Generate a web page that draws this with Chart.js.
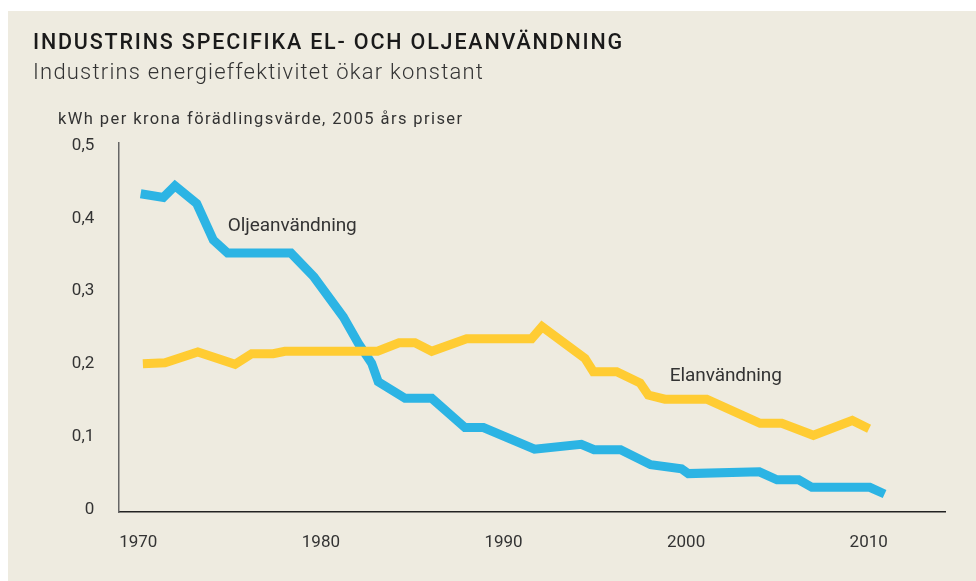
<!DOCTYPE html>
<html lang="sv">
<head>
<meta charset="utf-8">
<title>Industrins specifika el- och oljeanvändning</title>
<script src="https://cdn.jsdelivr.net/npm/chart.js@4.4.1/dist/chart.umd.min.js"></script>
<style>
  html, body { margin: 0; padding: 0; background: #fff; }
  #chart { display: block; width: 976px; height: 581px; }
</style>
</head>
<body>
<canvas id="chart" width="976" height="581"></canvas>
<script>
// ----------------- Data -----------------

const title = "INDUSTRINS SPECIFIKA EL- OCH OLJEANVÄNDNING";
const subtitle = "Industrins energieffektivitet ökar konstant";
const unitLabel = "kWh per krona förädlingsvärde, 2005 års priser";

const xTicks = [1970, 1980, 1990, 2000, 2010];
const yTicks = [0, 0.1, 0.2, 0.3, 0.4, 0.5];

// Oljeanvändning (blue)
const oilYears = [
  1970.13, 1971.37, 1972.01, 1973.2, 1974.11, 1974.89, 1978.36, 1979.62,
  1981.23, 1982.05, 1982.78, 1983.14, 1984.61, 1986.07, 1987.89, 1988.9,
  1991.7, 1994.26, 1994.96, 1996.41, 1998.06, 1999.75, 2000.12, 2004.01,
  2004.98, 2006.17, 2006.89, 2010.06, 2010.87,
];
const oilValues = [
  0.4337, 0.4286, 0.4447, 0.4203, 0.3702, 0.3523, 0.3523, 0.3194,
  0.2644, 0.2283, 0.2008, 0.1755, 0.1527, 0.1527, 0.1126, 0.1126,
  0.0828, 0.0896, 0.0821, 0.0821, 0.0615, 0.0558, 0.0493, 0.0518,
  0.0408, 0.0408, 0.0304, 0.0304, 0.0213,
];

// Elanvändning (yellow)
const elYears = [
  1970.25, 1971.46, 1973.26, 1975.3, 1976.21, 1977.39, 1978.03, 1983.1,
  1984.28, 1985.15, 1986.07, 1987.98, 1991.54, 1992.11, 1994.46, 1994.92,
  1996.2, 1997.48, 1997.93, 1998.84, 2001.13, 2004.05, 2005.24, 2006.97,
  2009.1, 2010.02,
];
const elValues = [
  0.2001, 0.2016, 0.2163, 0.1996, 0.214, 0.214, 0.2173, 0.2173,
  0.229, 0.229, 0.2173, 0.2346, 0.2346, 0.2511, 0.2077, 0.1893,
  0.1893, 0.1738, 0.1573, 0.1515, 0.1515, 0.1184, 0.1184, 0.1019,
  0.1223, 0.111,
];

// series name labels, placed in data coordinates (left edge, baseline)
const seriesLabels = [
  { text: "Oljeanvändning", x: 1974.9, y: 0.3832, width: 129 },
  { text: "Elanvändning", x: 1999.11, y: 0.1772, width: 112 },
];

// ----------------- Styles -----------------

const BLUE = "#2cb4e4";
const YELLOW = "#ffcc33";
const PANEL = "#eeebe0";
const TEXT = "#333333";
const FONT = "Roboto, 'DejaVu Sans', sans-serif";

function toPoints(xs, ys) {
  return xs.map((x, i) => ({ x, y: ys[i] }));
}

// draw text starting at x, spread to a target width with letter spacing
function drawFitted(ctx, text, x, y, font, color, width) {
  ctx.save();
  ctx.font = font;
  ctx.fillStyle = color;
  ctx.textAlign = "left";
  ctx.textBaseline = "alphabetic";
  const w = ctx.measureText(text).width;
  if ("letterSpacing" in ctx && width) {
    ctx.letterSpacing = ((width - w) / (text.length - 1)).toFixed(2) + "px";
  }
  ctx.fillText(text, x, y);
  ctx.restore();
}

const backdrop = {
  id: "backdrop",
  beforeDraw(chart) {
    const ctx = chart.ctx;
    ctx.save();
    ctx.fillStyle = "#ffffff";
    ctx.fillRect(0, 0, chart.width, chart.height);
    ctx.fillStyle = PANEL;
    ctx.fillRect(8, 11, chart.width - 8, chart.height - 11);
    ctx.restore();

    drawFitted(ctx, title, 33, 48.5, `500 21.5px ${FONT}`, "#1a1a1a", 589);
    drawFitted(ctx, subtitle, 33, 79, `300 22px ${FONT}`, TEXT, 450);
    drawFitted(ctx, unitLabel, 58, 124, `400 16.5px ${FONT}`, TEXT, 404);
  },
  afterDatasetsDraw(chart) {
    const xs = chart.scales.x;
    const ys = chart.scales.y;
    seriesLabels.forEach((l) => {
      drawFitted(
        chart.ctx,
        l.text,
        xs.getPixelForValue(l.x),
        ys.getPixelForValue(l.y),
        `400 19px ${FONT}`,
        TEXT,
        l.width
      );
    });
  },
};

new Chart(document.getElementById("chart"), {
  type: "line",
  data: {
    datasets: [
      {
        label: "Elanvändning",
        data: toPoints(elYears, elValues),
        borderColor: YELLOW,
        borderWidth: 9,
        borderCapStyle: "butt",
        borderJoinStyle: "miter",
        pointRadius: 0,
        tension: 0,
        fill: false,
      },
      {
        label: "Oljeanvändning",
        data: toPoints(oilYears, oilValues),
        borderColor: BLUE,
        borderWidth: 9,
        borderCapStyle: "butt",
        borderJoinStyle: "miter",
        pointRadius: 0,
        tension: 0,
        fill: false,
      },
    ],
  },
  options: {
    responsive: false,
    animation: false,
    devicePixelRatio: 1,
    layout: { padding: { left: 0, top: 142.3, right: 31, bottom: 0 } },
    plugins: {
      legend: { display: false },
      tooltip: { enabled: false },
    },
    scales: {
      x: {
        type: "linear",
        min: 1968.905,
        max: 2014.178,
        afterBuildTicks: (scale) => {
          scale.ticks = xTicks.map((v) => ({ value: v }));
        },
        afterFit: (scale) => {
          scale.height = 69;
        },
        grid: { display: false, drawTicks: false },
        border: { display: true, color: "#222222", width: 1.5 },
        ticks: {
          padding: 21,
          color: TEXT,
          font: { family: FONT, size: 17, weight: "400" },
          maxRotation: 0,
          callback: (v) => String(v),
        },
      },
      y: {
        type: "linear",
        min: -0.00343,
        max: 0.5044,
        afterBuildTicks: (scale) => {
          scale.ticks = yTicks.map((v) => ({ value: v }));
        },
        afterFit: (scale) => {
          scale.width = 118.3;
        },
        grid: { display: false, drawTicks: false },
        border: { display: true, color: "#666666", width: 1.5 },
        ticks: {
          padding: 24,
          color: TEXT,
          font: { family: FONT, size: 17, weight: "400" },
          callback: (v) => (v === 0 ? "0" : v.toFixed(1).replace(".", ",")),
        },
      },
    },
  },
  plugins: [backdrop],
});
</script>
</body>
</html>
